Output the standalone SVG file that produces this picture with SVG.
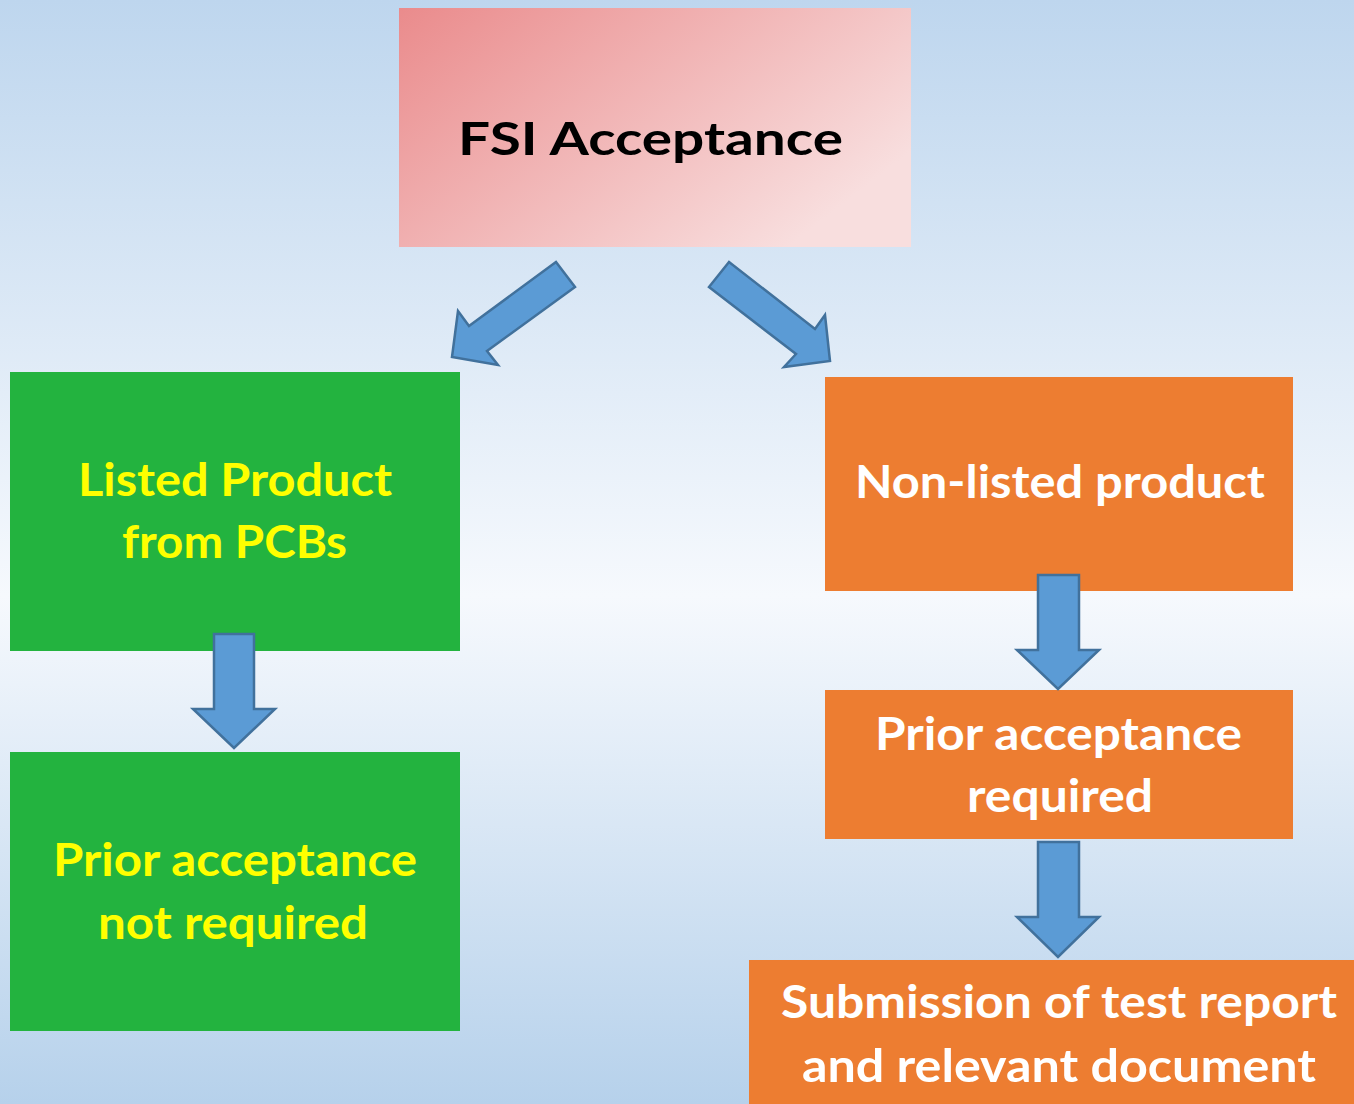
<svg xmlns="http://www.w3.org/2000/svg" width="1354" height="1104" viewBox="0 0 1354 1104">
<defs>
<linearGradient id="bg" x1="0" y1="0" x2="0" y2="1">
<stop offset="0" stop-color="#BED6EE"/>
<stop offset="0.54" stop-color="#F6F9FD"/>
<stop offset="1" stop-color="#B6D1EB"/>
</linearGradient>
<linearGradient id="pink" x1="0" y1="0" x2="1" y2="0.6">
<stop offset="0" stop-color="#EA8B8C"/>
<stop offset="1" stop-color="#F8DEDE"/>
</linearGradient>
<style>
.arrow{fill:#5B9BD5;stroke:#41719C;stroke-width:2.5;stroke-linejoin:miter}
.t{font-family:Lato,"Open Sans","Liberation Sans",sans-serif;font-weight:bold;font-size:46px}
.y{fill:#FFFF00}
.w{fill:#FFFFFF}
.green{fill:#23B33F}
.orange{fill:#ED7D31}
</style>
</defs>
<rect width="1354" height="1104" fill="url(#bg)"/>
<g id="fsi">
<rect x="399" y="8" width="512" height="239" fill="url(#pink)"/>
<text class="t" x="458" y="155" font-size="55" textLength="385" lengthAdjust="spacingAndGlyphs" fill="#000">FSI Acceptance</text>
</g>
<g id="listed">
<rect class="green" x="10" y="372" width="450" height="279"/>
<text class="t y" x="78" y="496" textLength="314" lengthAdjust="spacingAndGlyphs">Listed Product</text>
<text class="t y" x="122" y="558" textLength="225" lengthAdjust="spacingAndGlyphs">from PCBs</text>
</g>
<g id="notreq">
<rect class="green" x="10" y="752" width="450" height="279"/>
<text class="t y" x="53" y="876" textLength="364" lengthAdjust="spacingAndGlyphs">Prior acceptance</text>
<text class="t y" x="98" y="939" textLength="270" lengthAdjust="spacingAndGlyphs">not required</text>
</g>
<g id="nonlisted">
<rect class="orange" x="825" y="377" width="468" height="214"/>
<text class="t w" x="855" y="498" textLength="410" lengthAdjust="spacingAndGlyphs">Non-listed product</text>
</g>
<g id="req">
<rect class="orange" x="825" y="690" width="468" height="149"/>
<text class="t w" x="875" y="750" textLength="367" lengthAdjust="spacingAndGlyphs">Prior acceptance</text>
<text class="t w" x="967" y="812" textLength="186" lengthAdjust="spacingAndGlyphs">required</text>
</g>
<g id="submission">
<rect class="orange" x="749" y="960" width="605" height="144"/>
<text class="t w" x="781" y="1018" textLength="556" lengthAdjust="spacingAndGlyphs">Submission of test report</text>
<text class="t w" x="802" y="1082" textLength="514" lengthAdjust="spacingAndGlyphs">and relevant document</text>
</g>
<g id="connectors">
<polygon class="arrow" points="556,262 575,287 487,351 498,365 452,357 458,311 469,326"/>
<polygon class="arrow" points="729,262 709,287 796,354 784,367 830,361 825,315 815,329"/>
<polygon class="arrow" points="214,634 254,634 254,709 275,709 234,748 193,709 214,709"/>
<polygon class="arrow" points="1038,575 1079,575 1079,650 1099,650 1058,689 1017,650 1038,650"/>
<polygon class="arrow" points="1038,842 1079,842 1079,917 1099,917 1058,957 1017,917 1038,917"/>
</g>
</svg>
